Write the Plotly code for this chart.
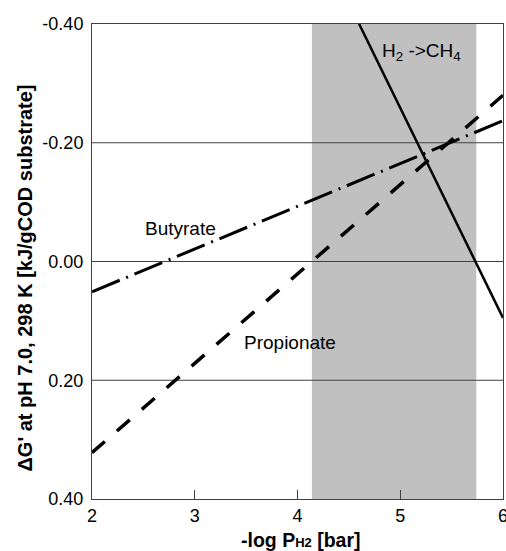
import plotly.graph_objects as go

# Data
x_ends = [2, 6]
butyrate = [0.051, -0.237]
propionate = [0.322, -0.28]
h2_x = [4.6, 6.0]
h2_y = [-0.40, 0.095]
shade_x = [4.14, 5.74]
y_ticks = [-0.40, -0.20, 0.00, 0.20, 0.40]
y_tick_text = ["-0.40", "-0.20", "0.00", "0.20", "0.40"]
x_ticks = [2, 3, 4, 5, 6]
grid_y = [-0.20, 0.00, 0.20]

font_family = "Liberation Sans, Arial, sans-serif"

fig = go.Figure()

fig.add_trace(go.Scatter(x=x_ends, y=butyrate, mode="lines",
                         line=dict(color="black", width=3, dash="30px,7px,2px,7px"),
                         showlegend=False))
fig.add_trace(go.Scatter(x=x_ends, y=propionate, mode="lines",
                         line=dict(color="black", width=3.5, dash="17px,16px"),
                         showlegend=False))
fig.add_trace(go.Scatter(x=h2_x, y=h2_y, mode="lines",
                         line=dict(color="black", width=2.5),
                         showlegend=False))

fig.add_shape(type="rect", xref="x", yref="paper", x0=shade_x[0], x1=shade_x[1],
              y0=0, y1=1, fillcolor="#C0C0C0", line=dict(width=0), layer="below")

for yv in grid_y:
    fig.add_shape(type="line", xref="paper", yref="y", x0=0, x1=1, y0=yv, y1=yv,
                  line=dict(color="#404040", width=1), layer="below")

fig.add_annotation(x=5.21, y=-0.353, text="H<sub>2</sub> ->CH<sub>4</sub>",
                   showarrow=False, font=dict(size=19, color="black", family=font_family))
fig.add_annotation(x=2.86, y=-0.056, text="Butyrate",
                   showarrow=False, font=dict(size=19, color="black", family=font_family))
fig.add_annotation(x=3.93, y=0.137, text="Propionate",
                   showarrow=False, font=dict(size=19, color="black", family=font_family))

# axis titles
fig.add_annotation(xref="paper", yref="paper", x=0.5, y=0, xshift=3, yshift=-41,
                   xanchor="center", yanchor="middle",
                   text="<b>-log P<span style='font-size:13px'>H2</span> [bar]</b>",
                   showarrow=False,
                   font=dict(size=19.5, color="black", family=font_family))
fig.add_annotation(xref="paper", yref="paper", x=0, xshift=-68, y=0.5, yshift=-17,
                   xanchor="center", yanchor="middle",
                   text="<b>ΔG' at pH 7.0, 298 K [kJ/gCOD substrate]</b>", showarrow=False,
                   textangle=-90,
                   font=dict(size=20, color="black", family=font_family))

fig.update_layout(
    width=506, height=551,
    margin=dict(l=92, r=3, t=24, b=52, autoexpand=False),
    paper_bgcolor="white", plot_bgcolor="white",
    font=dict(family=font_family, color="black"),
    xaxis=dict(range=[2, 6], tickvals=x_ticks, ticks="inside", ticklen=9,
               tickcolor="#404040", showgrid=False, zeroline=False,
               showline=True, linecolor="#404040", linewidth=1, mirror=True,
               tickfont=dict(size=18), automargin=False, ticklabeloverflow="allow"),
    yaxis=dict(range=[0.40, -0.40], tickvals=y_ticks, ticktext=y_tick_text,
               showgrid=False, zeroline=False, ticks="", ticklabelstandoff=4,
               showline=True, linecolor="#404040", linewidth=1, mirror=True,
               tickfont=dict(size=18), automargin=False, ticklabeloverflow="allow"),
)

fig.write_html("out.html", config={"displayModeBar": False},
               post_script="document.body.style.margin='0';")
